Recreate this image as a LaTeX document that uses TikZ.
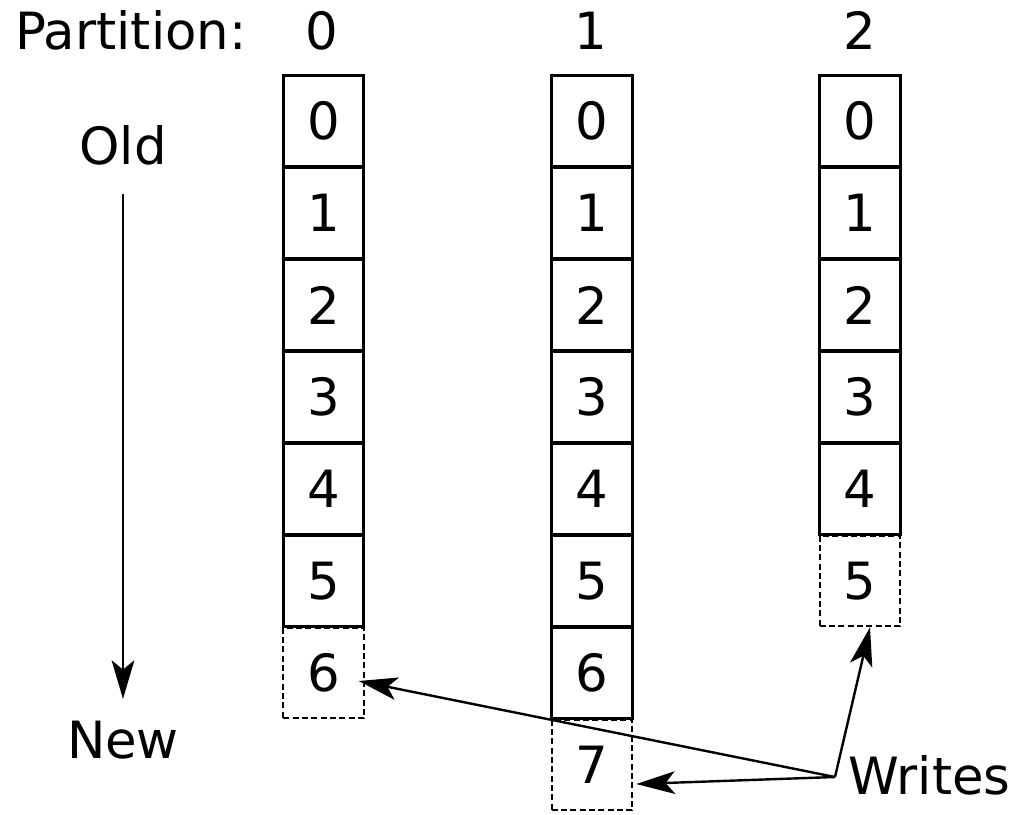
\documentclass[tikz,border=0pt]{standalone}
\usepackage{fontspec}
\setmainfont{DejaVu Sans}
\usetikzlibrary{arrows.meta}
\begin{document}
\begin{tikzpicture}[x=0.75pt,y=-0.75pt,
  cell/.style={draw, line width=2.3pt, minimum width=60.5pt, minimum height=68pt, inner sep=0pt, font=\fontsize{38.5}{42}\selectfont},
  newcell/.style={cell, line width=1.4pt, dash pattern=on 4.5pt off 2.5pt},
  lbl/.style={inner sep=0pt, font=\fontsize{38.5}{42}\selectfont},
  tip/.style={-{Stealth[length=29pt,width=17pt,inset=7pt]}},
  arr/.style={line width=1.8pt, tip}]
\useasboundingbox (0,0) rectangle (1017,814);
\node[lbl, anchor=base west] (part) at (15,49) {Partition:};
\node[lbl, anchor=base] (h0) at (322,49) {0};
\node[lbl, anchor=base] (h1) at (591,49) {1};
\node[lbl, anchor=base] (h2) at (860,49) {2};
% partition 0
\foreach \i in {0,...,5} {\node[cell] (a\i) at (323.5,{121+92*\i}) {\i};}
\node[newcell] (a6) at (323.5,{121+92*6}) {6};
% partition 1
\foreach \i in {0,...,6} {\node[cell] (b\i) at (592,{121+92*\i}) {\i};}
\node[newcell] (b7) at (592,{121+92*7}) {7};
% partition 2
\foreach \i in {0,...,4} {\node[cell] (c\i) at (860,{121+92*\i}) {\i};}
\node[newcell] (c5) at (860,{121+92*5}) {5};
% old / new
\node[lbl, anchor=base] (old) at (123,164) {Old};
\node[lbl, anchor=base] (new) at (123,758) {New};
\draw[arr] ([yshift=-22pt]old.south) -- ([yshift=16pt]new.north);
% writes
\node[lbl, anchor=base west] (wr) at (848,794) {Writes};
\coordinate (w) at (835,777);
\draw[arr] (w) -- ([shift={(-6,8)}]a6.east);
\draw[arr] (w) -- ([shift={(3,19)}]b7.east);
\draw[arr] (w) -- ([shift={(10,0)}]c5.south);
\end{tikzpicture}
\end{document}
